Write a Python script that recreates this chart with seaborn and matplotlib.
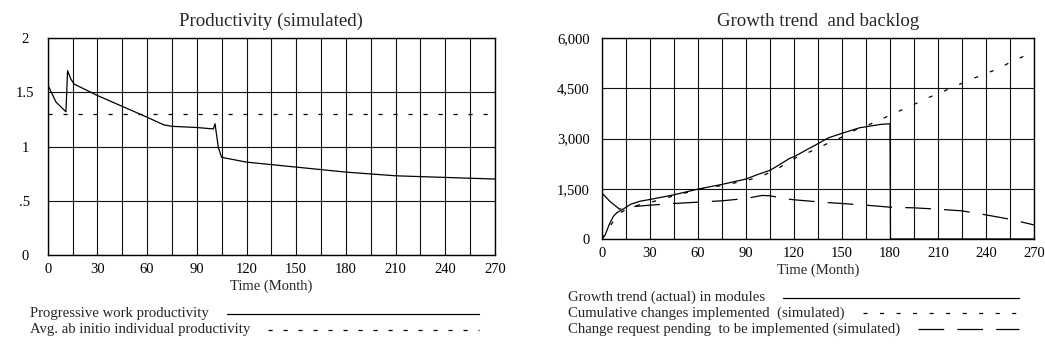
import numpy as np
import pandas as pd
import matplotlib
matplotlib.use("Agg")
import matplotlib.pyplot as plt
from matplotlib.lines import Line2D
from matplotlib.ticker import MultipleLocator, FixedLocator
import seaborn as sns

# ---------------- data ----------------
# Left panel: Productivity (simulated)
prod_t = [0, 5, 11, 12, 14, 16, 30, 45, 60, 70, 75, 90, 100, 101, 103, 105,
          120, 150, 180, 210, 240, 270]
prod_v = [1.57, 1.41, 1.32, 1.70, 1.62, 1.575, 1.47, 1.37, 1.27, 1.20, 1.186,
          1.175, 1.162, 1.21, 0.99, 0.90, 0.856, 0.81, 0.764, 0.73, 0.715, 0.70]
abinit_t = [0, 270]
abinit_v = [1.30, 1.30]

# Right panel: Growth trend and backlog
growth_t = [0, 2, 4.4, 7, 9.4, 12.5, 18, 24, 30, 45, 60, 75, 90, 97, 105, 111,
            117, 121, 127, 134, 141.5, 151, 161, 174, 180, 180.3, 270]
growth_v = [0, 120, 420, 670, 790, 870, 1040, 1130, 1180, 1320, 1490, 1630,
            1790, 1920, 2050, 2220, 2400, 2480, 2640, 2820, 3020, 3170, 3320,
            3420, 3440, 0, 0]
cum_t = [0, 5, 10, 15, 20, 30, 45, 60, 75, 90, 100, 110, 116, 121, 128, 140,
         149, 159, 171, 181, 192, 204, 214, 226, 236, 247, 257, 268.5, 270]
cum_v = [0, 380, 740, 880, 980, 1090, 1290, 1470, 1600, 1740, 1880, 2100, 2290,
         2420, 2560, 2830, 3020, 3270, 3490, 3720, 3950, 4220, 4420, 4670, 4870,
         5070, 5320, 5550, 5600]
pend_t = [0, 5, 11, 15, 30, 45, 60, 75, 90, 100, 105, 115, 120, 130, 140, 150,
          165, 180, 195, 210, 225, 240, 255, 270]
pend_v = [1370, 1120, 890, 950, 1010, 1060, 1100, 1140, 1210, 1300, 1290, 1200,
          1170, 1130, 1090, 1060, 1010, 950, 930, 890, 840, 720, 590, 420]

left_yticks = [0, 0.5, 1, 1.5, 2]
left_ylabels = ["0", ".5", "1", "1.5", "2"]
right_yticks = [0, 1500, 3000, 4500, 6000]
right_ylabels = ["0", "1,500", "3,000", "4,500", "6,000"]
xticks = [0, 30, 60, 90, 120, 150, 180, 210, 240, 270]

left_title = "Productivity (simulated)"
right_title = "Growth trend  and backlog"
xlabel = "Time (Month)"
left_legend = ["Progressive work productivity",
               "Avg. ab initio individual productivity"]
right_legend = ["Growth trend (actual) in modules",
                "Cumulative changes implemented  (simulated)",
                "Change request pending  to be implemented (simulated)"]

# ---------------- style ----------------
sns.set_style("white")
plt.rcParams["font.family"] = ["Liberation Serif", "DejaVu Serif"]
plt.rcParams["lines.scale_dashes"] = False

W, H = 1045, 350
fig = plt.figure(figsize=(W / 100, H / 100), dpi=100)

FS_TICK = 10.5
FS_TITLE = 13.6
FS_LEG = 10.6
LW = 0.9

SOLID = "-"
ABINIT_DASH = (0, (3.0, 7.8))
CUM_DASH = (0, (2.9, 9.0))
PEND_DASH = (0, (18.5, 9.5))


def px_axes(x0, x1, ytop, ybot):
    return fig.add_axes([x0 / W, 1 - ybot / H, (x1 - x0) / W, (ybot - ytop) / H])


def style_axes(ax, yticks, ylabels, ymax, title, center_y=False):
    ax.set_xlim(0, 270)
    ax.set_ylim(0, ymax)
    ax.xaxis.set_major_locator(FixedLocator(xticks))
    ax.xaxis.set_minor_locator(MultipleLocator(15))
    ax.yaxis.set_major_locator(FixedLocator(yticks))
    ax.set_yticklabels(ylabels)
    ax.grid(True, which="both", axis="x", color="#111111", lw=0.8)
    ax.grid(True, which="major", axis="y", color="#111111", lw=0.8)
    ax.set_axisbelow(True)
    for s in ax.spines.values():
        s.set_color("black")
        s.set_linewidth(1.0)
    ax.tick_params(axis="both", which="both", length=0, labelsize=FS_TICK,
                   colors="black")
    ax.tick_params(axis="x", pad=6)
    if center_y:
        ax.tick_params(axis="y", pad=16.3)
        for lab in ax.get_yticklabels():
            lab.set_horizontalalignment("center")
    else:
        ax.tick_params(axis="y", pad=9)
    ax.set_xlabel(xlabel, fontsize=FS_TICK, labelpad=2)
    ax.set_ylabel("")
    ax.set_title(title, fontsize=FS_TITLE, pad=9)


# ---------------- left panel ----------------
axL = px_axes(47.7, 495, 38, 255)
sns.lineplot(x=prod_t, y=prod_v, ax=axL, color="black", lw=LW,
             estimator=None, sort=False)
sns.lineplot(x=abinit_t, y=abinit_v, ax=axL, color="black", lw=LW,
             estimator=None, sort=False)
axL.lines[-1].set_linestyle(ABINIT_DASH)
style_axes(axL, left_yticks, left_ylabels, 2, left_title, center_y=True)

# ---------------- right panel ----------------
axR = px_axes(602, 1034, 38, 239)
sns.lineplot(x=growth_t, y=growth_v, ax=axR, color="black", lw=LW,
             estimator=None, sort=False)
sns.lineplot(x=cum_t, y=cum_v, ax=axR, color="black", lw=LW,
             estimator=None, sort=False)
axR.lines[-1].set_linestyle(CUM_DASH)
sns.lineplot(x=pend_t, y=pend_v, ax=axR, color="black", lw=LW,
             estimator=None, sort=False)
axR.lines[-1].set_linestyle(PEND_DASH)
style_axes(axR, right_yticks, right_ylabels, 6000, right_title)

# ---------------- legends (Vensim style) ----------------
fig.canvas.draw()
renderer = fig.canvas.get_renderer()


def legend_block(x_text, ys, labels, styles, x_end, gap=18):
    for y, lab, ls in zip(ys, labels, styles):
        t = fig.text(x_text / W, 1 - y / H, lab, fontsize=FS_LEG,
                     ha="left", va="center")
        bb = t.get_window_extent(renderer)
        x0 = bb.x1 + gap
        ln = Line2D([x0 / W, x_end / W], [1 - y / H, 1 - y / H],
                    transform=fig.transFigure, color="black", lw=LW,
                    linestyle=ls)
        fig.add_artist(ln)


legend_block(30, [314, 330], left_legend, [SOLID, ABINIT_DASH], 479)
legend_block(568, [297.5, 313, 329], right_legend,
             [SOLID, CUM_DASH, PEND_DASH], 1019)

fig.savefig("out.png", dpi=100, facecolor="white")
